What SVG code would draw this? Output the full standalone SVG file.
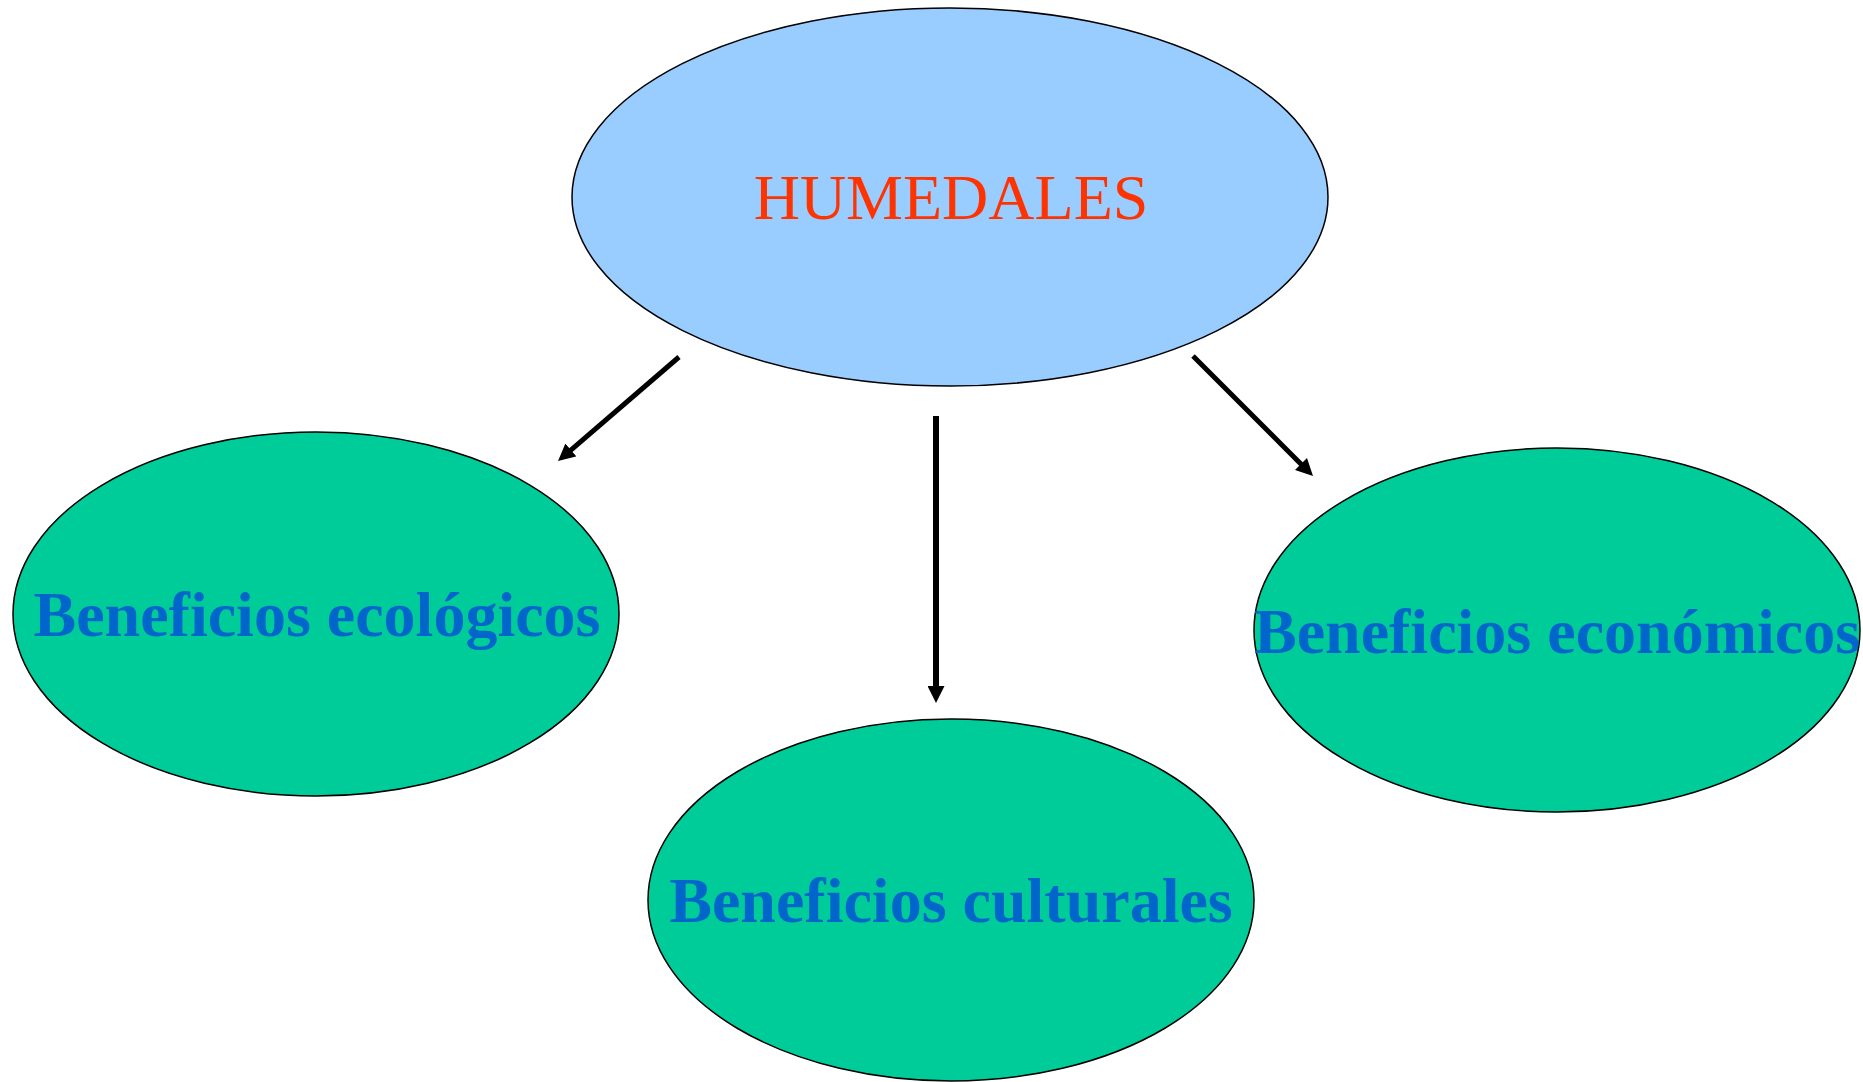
<svg xmlns="http://www.w3.org/2000/svg" width="1863" height="1082" viewBox="0 0 1863 1082">
<style>
.node{stroke:#000;stroke-width:1.5}
.main{fill:#99CCFF}
.sub{fill:#00CC99}
.t1{font-family:"Liberation Serif","Times New Roman",serif;font-size:64px;fill:#FF3300;text-anchor:middle}
.t2{font-family:"Liberation Serif","Times New Roman",serif;font-size:64px;font-weight:bold;fill:#0066CC;text-anchor:middle}
.conn{stroke:#000;stroke-width:5;fill:none;marker-end:url(#ah)}
</style>
<defs>
<marker id="ah" markerUnits="userSpaceOnUse" markerWidth="17" markerHeight="17" viewBox="0 0 17 17" refX="2" refY="8.5" orient="auto">
<path d="M0,0 L17,8.5 L0,17 z" fill="#000"/>
</marker>
</defs>
<rect width="1863" height="1082" fill="#fff"/>
<g id="connectors">
<line class="conn" x1="679" y1="357" x2="569.4" y2="451.3"/>
<line class="conn" x1="936" y1="416" x2="936" y2="688" style="stroke-width:6"/>
<line class="conn" x1="1193" y1="356" x2="1302.4" y2="465.4"/>
</g>
<g id="humedales">
<ellipse class="node main" cx="950" cy="197" rx="378" ry="189"/>
<text class="t1" x="951" y="219">HUMEDALES</text>
</g>
<g id="ecologicos">
<ellipse class="node sub" cx="316" cy="614" rx="303" ry="182"/>
<text class="t2" x="317" y="636">Beneficios ecológicos</text>
</g>
<g id="culturales">
<ellipse class="node sub" cx="951" cy="900" rx="303" ry="181"/>
<text class="t2" x="951" y="922">Beneficios culturales</text>
</g>
<g id="economicos">
<ellipse class="node sub" cx="1557" cy="630" rx="303" ry="182"/>
<text class="t2" x="1557" y="653">Beneficios económicos</text>
</g>
</svg>
